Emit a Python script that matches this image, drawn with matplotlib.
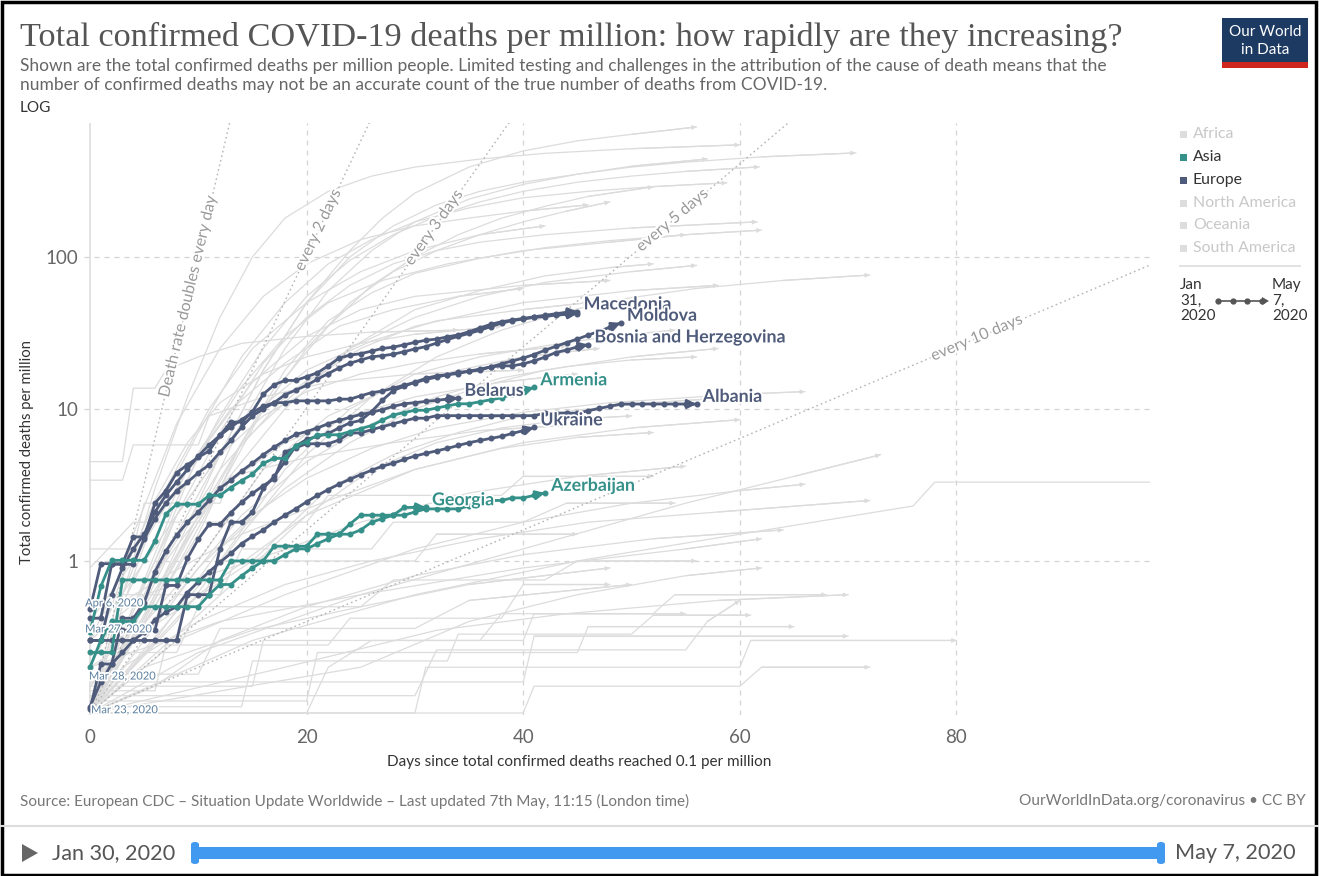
import numpy as np
import matplotlib.pyplot as plt
import matplotlib.patheffects as pe
from matplotlib.patches import Rectangle, FancyBboxPatch, Polygon
from matplotlib.lines import Line2D

W, H = 1319, 876

# ---- highlighted countries: deaths per million, one value per day since 0.1/M ----
macedonia = [0.48, 0.96, 0.96, 0.96, 1.44, 1.44, 2.4, 2.9, 3.8, 4.3, 4.8, 5.3, 6.7, 8.2, 8.2,
             9.6, 12.5, 14.4, 15.4, 15.4, 16.3, 17.3, 19.2, 21.6, 22.6, 23.1, 24.0, 25.0, 25.5,
             26.4, 27.4, 28.3, 28.8, 29.8, 30.7, 32.2, 34.1, 36.0, 37.5, 38.4, 39.4, 40.4, 41.3,
             42.3, 43.2, 43.7]
europe_other = [0.42, 0.42, 0.95, 0.95, 0.95, 1.4, 1.9, 2.4, 2.9, 3.3, 3.8, 4.3, 5.2, 6.2, 7.6,
                9.0, 10.0, 11.0, 12.4, 13.3, 14.3, 15.7, 17.1, 18.6, 20.0, 21.0, 22.0, 22.4, 22.9,
                23.8, 24.8, 25.7, 27.1, 28.6, 30.0, 31.4, 32.9, 34.8, 36.7, 38.1, 39.0, 40.0, 40.5,
                41.4, 41.9, 42.4]
moldova = [0.30, 0.30, 0.30, 0.30, 0.30, 0.30, 0.30, 0.30, 0.30, 0.60, 0.60, 0.60, 1.2, 1.8, 1.8,
           2.1, 3.0, 3.6, 4.5, 5.7, 6.3, 6.6, 6.9, 7.5, 8.1, 8.4, 9.6, 11.4, 13.2, 14.1, 15.0,
           15.9, 16.5, 16.8, 17.4, 17.7, 18.0, 18.9, 19.8, 20.7, 21.6, 22.8, 24.3, 25.8, 27.3,
           28.8, 30.6, 32.4, 34.5, 36.8]
bosnia = [0.3, 0.3, 0.6, 0.9, 1.2, 1.5, 2.1, 2.7, 3.3, 4.0, 4.9, 5.8, 6.7, 7.6, 8.5, 9.5, 10.4,
          11.0, 11.0, 11.3, 11.3, 11.3, 11.3, 11.6, 11.6, 12.2, 12.8, 13.1, 13.7, 14.3, 14.9,
          15.6, 16.2, 16.8, 17.1, 17.7, 18.3, 18.9, 19.2, 19.2, 19.8, 20.7, 21.9, 23.5, 24.4,
          25.6, 26.5]
belarus = [0.106, 0.21, 0.21, 0.42, 0.42, 0.53, 0.85, 1.16, 1.48, 1.8, 2.1, 2.5, 3.0, 3.4, 3.9,
           4.4, 5.0, 5.6, 6.2, 6.8, 7.1, 7.5, 8.0, 8.4, 8.8, 9.2, 9.5, 9.9, 10.4, 10.8, 11.0,
           11.2, 11.4, 11.6, 11.8]
albania = [0.35, 0.35, 0.35, 0.35, 0.35, 0.35, 0.35, 0.69, 0.69, 1.04, 1.39, 1.74, 1.74, 2.08,
           2.43, 2.78, 3.13, 3.47, 5.2, 5.56, 5.9, 5.9, 5.9, 6.25, 6.95, 6.95, 7.3, 7.64, 7.99,
           8.34, 8.69, 8.69, 9.03, 9.03, 9.03, 9.03, 9.03, 9.03, 9.03, 9.03, 9.03, 9.03, 9.38,
           9.38, 9.38, 9.38, 9.73, 10.07, 10.42, 10.77, 10.77, 10.77, 10.77, 10.77, 10.77,
           10.77, 10.77]
ukraine = [0.11, 0.16, 0.21, 0.25, 0.30, 0.34, 0.41, 0.46, 0.50, 0.62, 0.73, 0.85, 0.98, 1.12,
           1.30, 1.45, 1.60, 1.80, 2.0, 2.2, 2.45, 2.7, 2.95, 3.2, 3.45, 3.7, 3.95, 4.2, 4.4,
           4.65, 4.9, 5.1, 5.3, 5.5, 5.75, 6.0, 6.2, 6.4, 6.6, 6.9, 7.2, 7.55]
armenia = [0.34, 0.68, 1.01, 1.01, 1.01, 1.01, 1.35, 2.03, 2.36, 2.36, 2.36, 2.7, 2.7, 3.04,
           3.38, 3.72, 4.39, 4.73, 4.73, 5.74, 6.08, 6.76, 6.76, 6.76, 7.1, 7.43, 7.77, 8.45,
           9.12, 9.46, 9.8, 9.8, 10.14, 10.47, 10.81, 10.81, 11.15, 11.49, 11.82, 12.5, 13.18,
           13.85]
georgia = [0.25, 0.25, 0.25, 0.75, 0.75, 0.75, 0.75, 0.75, 0.75, 0.75, 0.75, 0.75, 0.75, 1.0,
           1.0, 1.0, 1.0, 1.25, 1.25, 1.25, 1.25, 1.5, 1.5, 1.5, 1.75, 2.0, 2.0, 2.0, 2.0, 2.25,
           2.25, 2.25]
azerbaijan = [0.2, 0.3, 0.4, 0.4, 0.4, 0.5, 0.5, 0.5, 0.5, 0.5, 0.5, 0.6, 0.7, 0.7, 0.8, 0.9,
              1.0, 1.0, 1.1, 1.2, 1.2, 1.3, 1.4, 1.5, 1.5, 1.6, 1.8, 1.9, 2.0, 2.0, 2.1, 2.2,
              2.2, 2.2, 2.2, 2.3, 2.4, 2.5, 2.5, 2.6, 2.6, 2.7, 2.8]

europe_series = [('Macedonia', macedonia), ('', europe_other), ('Moldova', moldova),
                 ('Bosnia and Herzegovina', bosnia), ('Belarus', belarus),
                 ('Albania', albania), ('Ukraine', ukraine)]
asia_series = [('Armenia', armenia), ('Georgia', georgia), ('Azerbaijan', azerbaijan)]

# start-date labels shown at the left edge
start_labels = ['Apr 6, 2020', 'Mar 27, 2020', 'Mar 28, 2020', 'Mar 23, 2020']
start_label_x = [-0.45, -0.45, -0.1, 0.1]
start_label_y = [0.53, 0.357, 0.175, 0.105]

# ---- all other countries (grey), as (day, deaths per million) ----
grey_upper = [
    [(0, 0.1), (4, 0.4), (8, 1.5), (12, 5), (16, 18), (20, 50), (24, 110), (27, 180), (30, 263), (35, 390), (40, 498), (45, 580), (50, 640), (56, 716)],
    [(0, 0.1), (3, 0.6), (6, 3), (9, 12), (12, 40), (15, 100), (18, 180), (22, 270), (26, 340), (30, 390), (36, 440), (42, 480), (50, 515), (60, 546)],
    [(0, 0.1), (5, 0.4), (10, 2), (14, 8), (18, 25), (22, 60), (26, 110), (30, 170), (35, 240), (40, 300), (45, 350), (50, 390), (55, 420), (62, 455), (70.7, 483)],
    [(0, 0.1), (4, 0.3), (8, 1.2), (12, 5), (16, 18), (20, 50), (24, 100), (28, 160), (32, 220), (36, 270), (40, 310), (45, 350), (50, 395), (57, 441)],
    [(0, 0.1), (4, 0.5), (8, 2.5), (12, 9), (16, 25), (20, 55), (24, 95), (28, 140), (32, 185), (36, 230), (40, 270), (45, 310), (50, 340), (55, 365), (61.8, 391)],
    [(0, 0.1), (6, 0.6), (10, 2), (14, 6), (18, 16), (22, 35), (26, 65), (30, 100), (34, 140), (38, 180), (42, 215), (46, 250), (52, 289)],
    [(0, 0.1), (3, 0.5), (6, 2), (10, 7), (14, 22), (18, 50), (22, 90), (26, 130), (30, 170), (35, 210), (40, 245), (46, 270), (52, 290), (58.8, 307)],
    [(0, 0.1), (4, 0.4), (8, 2), (12, 7), (16, 20), (20, 40), (24, 65), (28, 90), (32, 110), (36, 125), (42, 140), (50, 155), (61.6, 170)],
    [(0, 0.1), (8, 0.4), (14, 1.5), (20, 5), (26, 12), (32, 22), (38, 33), (44, 44), (50, 54), (56, 62), (64, 70), (72, 76)],
    [(0, 0.1), (6, 0.5), (12, 3), (16, 10), (20, 25), (24, 50), (28, 80), (32, 110), (36, 140), (40, 170), (44, 200), (48, 230)],
    [(0, 0.1), (4, 1.5), (8, 8), (12, 25), (16, 55), (20, 90), (25, 130), (30, 160), (35, 180), (40, 200), (46, 220)],
    [(0, 0.2), (5, 1.0), (9, 4), (14, 14), (18, 30), (22, 50), (27, 70), (33, 90), (40, 110), (48, 125), (55, 140)],
    [(0, 0.1), (10, 1.5), (14, 6), (18, 18), (22, 38), (26, 58), (30, 78), (36, 98), (42, 115), (48, 128), (55, 140), (62, 150)],
    [(0, 0.1), (5, 0.5), (12, 3), (18, 10), (24, 25), (30, 45), (36, 60), (42, 75), (48, 85), (52, 90)],
    [(0, 0.1), (6, 0.8), (12, 4), (18, 12), (24, 25), (30, 40), (36, 55), (42, 68), (50, 80), (56, 88)],
    [(0, 0.1), (3, 0.6), (7, 3), (11, 10), (15, 25), (20, 50), (25, 80), (30, 110), (36, 140), (42, 160)],
]
grey_middle = [
    [(0, 0.1), (6, 1), (10, 5), (15, 15), (20, 30), (25, 45), (30, 55), (40, 65), (48, 70)],
    [(0, 0.1), (8, 1), (14, 6), (20, 15), (25, 25), (30, 35), (40, 50), (50, 60), (58, 65)],
    [(0, 0.3), (8, 2), (14, 8), (20, 18), (26, 28), (32, 38), (40, 45), (46, 50)],
    [(0, 0.1), (12, 1), (18, 4), (24, 10), (30, 17), (36, 22), (42, 26), (48, 30), (54, 33)],
    [(0, 0.15), (10, 1), (16, 4), (22, 9), (28, 14), (34, 18), (40, 22), (47, 25)],
    [(0, 0.1), (7, 1), (12, 3), (18, 6), (24, 9), (30, 12), (38, 15), (45, 17)],
    [(0, 0.2), (15, 1), (22, 3), (28, 5), (34, 7), (40, 9), (46, 10), (52, 11), (60, 12)],
    [(0, 0.1), (10, 0.6), (20, 2), (30, 4), (40, 6), (50, 7.5), (60, 8.5)],
    [(0, 0.4), (4, 1), (9, 4), (13, 10), (18, 20), (23, 35), (28, 45), (34, 55), (40, 62)],
    [(0, 0.1), (14, 0.8), (20, 2), (26, 4), (32, 6), (38, 7.5), (44, 8.5), (50, 9)],
    [(0, 0.4), (7, 0.8), (14, 1.5), (22, 2.5), (30, 4), (38, 5.5), (45, 6.5), (52, 7)],
    [(0, 0.3), (5, 0.6), (15, 1.0), (25, 1.8), (35, 2.8), (45, 3.6), (55, 4.2)],
    [(0, 0.1), (4, 0.5), (8, 2), (12, 5), (16, 9), (20, 13), (25, 17), (30, 20), (36, 23), (44, 26)],
    [(0, 0.2), (3, 0.8), (6, 2.5), (9, 6), (12, 11), (16, 17), (20, 22), (25, 27), (30, 31), (38, 35)],
    [(0, 0.1), (6, 0.3), (12, 1.2), (18, 3), (24, 6), (30, 10), (36, 14), (42, 18), (50, 22), (58, 25)],
    [(0, 4.5), (3, 4.5), (4, 13.7), (6, 13.7), (7, 18), (10, 22), (14, 27), (20, 30), (26, 32), (34, 33)],
    [(0, 3.4), (3, 3.4), (4, 5.8), (10, 5.8), (11, 9), (16, 12), (22, 15), (30, 17), (40, 18)],
    [(0, 1.2), (4, 1.2), (5, 2.4), (12, 2.4), (13, 3.6), (20, 4.8), (28, 6), (36, 7.2), (44, 7.8)],
    [(0, 0.9), (4, 1.8), (20, 1.8), (22, 2.7), (38, 2.7), (40, 3.6), (52, 3.6)],
    [(0, 0.1), (5, 0.3), (10, 0.9), (15, 2), (20, 3.5), (26, 5.5), (32, 7.5), (40, 9.5), (48, 11), (60, 12.5), (66, 13)],
    [(0, 0.15), (8, 0.6), (14, 2), (20, 4.5), (26, 8), (32, 12), (38, 16), (44, 19), (50, 21), (56, 22)],
]
grey_lower = [
    [(0, 0.1), (15, 0.3), (30, 0.6), (45, 1.0), (60, 1.5), (76, 2.3), (78, 3.3), (98, 3.3)],
    [(0, 0.1), (10, 0.25), (25, 0.6), (40, 1.2), (55, 2.4), (65, 3.6), (73, 5.0)],
    [(0, 0.1), (30, 0.1), (31, 0.2), (60, 0.2), (61, 0.3), (80, 0.3)],
    [(0, 0.12), (20, 0.12), (21, 0.25), (45, 0.25), (46, 0.37), (65, 0.37)],
    [(0, 0.15), (15, 0.15), (16, 0.3), (40, 0.3), (41, 0.45), (55, 0.45)],
    [(0, 0.1), (40, 0.1), (41, 0.15), (60, 0.15), (62, 0.2), (72, 0.2)],
    [(0, 0.2), (12, 0.4), (25, 0.6), (40, 0.9), (55, 1.2), (62, 1.4)],
    [(0, 0.1), (8, 0.3), (18, 0.6), (30, 1.2), (40, 1.8), (50, 2.4), (60, 2.9), (66, 3.2)],
    [(0, 0.1), (25, 0.2), (35, 0.4), (45, 0.6), (55, 0.8), (62, 0.9)],
    [(0, 0.13), (30, 0.13), (32, 0.26), (55, 0.26), (57, 0.4), (60, 0.55)],
    [(0, 0.5), (10, 0.5), (12, 1.0), (30, 1.0), (32, 1.5), (45, 1.5)],
    [(0, 0.25), (8, 0.25), (10, 0.5), (25, 0.5), (28, 0.75), (42, 0.75), (45, 1.0), (56, 1.0)],
    [(0, 0.1), (5, 0.2), (15, 0.35), (25, 0.5), (35, 0.7), (48, 0.9)],
    [(0, 0.18), (10, 0.18), (12, 0.36), (30, 0.36), (35, 0.55), (50, 0.7)],
    [(0, 0.1), (18, 0.2), (32, 0.35), (44, 0.45), (58, 0.55), (70, 0.6)],
    [(0, 0.11), (14, 0.11), (15, 0.22), (33, 0.22), (34, 0.33), (50, 0.33), (52, 0.44), (61, 0.44)],
    [(0, 0.14), (6, 0.14), (7, 0.28), (22, 0.28), (24, 0.42), (38, 0.42), (40, 0.7), (48, 0.7)],
    [(0, 0.1), (3, 0.2), (10, 0.4), (18, 0.7), (26, 1.0), (36, 1.4), (46, 1.8), (58, 2.1), (72, 2.5)],
    [(0, 0.1), (6, 0.15), (12, 0.3), (20, 0.5), (30, 0.8), (40, 1.1), (52, 1.4), (64, 1.6)],
    [(0, 0.16), (40, 0.16), (41, 0.32), (70, 0.32)],
    [(0, 0.3), (2, 0.6), (12, 0.6), (14, 1.2), (26, 1.2), (28, 1.8), (40, 1.8), (44, 2.4), (54, 2.4)],
    [(0, 0.1), (20, 0.1), (22, 0.2), (26, 0.3), (36, 0.3), (38, 0.45), (52, 0.45), (54, 0.6), (68, 0.6)],
]

# doubling reference lines
doubling_days = [1, 2, 3, 5, 10]
doubling_labels = ['Death rate doubles every day', 'every 2 days', 'every 3 days',
                   'every 5 days', 'every 10 days']
doubling_label_day = [9.1, 21.1, 31.8, 53.8, 81.9]

legend_names = ['Africa', 'Asia', 'Europe', 'North America', 'Oceania', 'South America']

EUROPE = '#4f5b7a'
ASIA = '#35908a'
GREY = '#dcdcdc'
FONT = 'Lato'


def fx(x):
    return x / W


def fy(y):
    return 1 - y / H


fig = plt.figure(figsize=(W / 100, H / 100), dpi=100)
ax = fig.add_axes([fx(83.5), fy(715), fx(1150.3) - fx(83.5), fy(123) - fy(715)])
ax.set_yscale('log')
ax.set_xlim(-0.6, 97.9)
ax.set_ylim(0.097, 760)
for s in ax.spines.values():
    s.set_visible(False)
ax.set_xticks([0, 20, 40, 60, 80])
ax.set_yticks([1, 10, 100])
ax.set_yticklabels(['1', '10', '100'])
ax.yaxis.set_minor_locator(plt.NullLocator())
ax.tick_params(length=0, labelsize=13.5, labelcolor='#666666', pad=4)
ax.tick_params(axis='x', pad=10)
for lab in ax.get_xticklabels() + ax.get_yticklabels():
    lab.set_family(FONT)

for d in [20, 40, 60, 80]:
    ax.axvline(d, color='#d4d4d4', lw=0.9, ls=(0, (4, 4)), zorder=0)
for v in [1, 10, 100]:
    ax.axhline(v, color='#d4d4d4', lw=0.9, ls=(0, (4, 4)), zorder=0)
ax.axvline(0, color='#dddddd', lw=1.2, zorder=0)

# grey background countries
for path in grey_upper + grey_middle + grey_lower:
    d, v = zip(*path)
    ax.plot(d, v, color=GREY, lw=0.9, zorder=1)
    ax.annotate('', xy=(d[-1], v[-1]), xytext=(d[-2], v[-2]),
                arrowprops=dict(arrowstyle='-|>', color=GREY, lw=0.9, mutation_scale=6,
                                shrinkA=0, shrinkB=0), zorder=1)

# doubling lines
xs = np.linspace(0, 98, 500)
for d, lab, ld in zip(doubling_days, doubling_labels, doubling_label_day):
    ax.plot(xs, 0.1 * 2 ** (xs / d), color='#b5b5b5', lw=1.0, ls=(0, (1.2, 2.2)), zorder=2)
    p1 = ax.transData.transform((ld, 0.1 * 2 ** (ld / d)))
    p2 = ax.transData.transform((ld + 0.5, 0.1 * 2 ** ((ld + 0.5) / d)))
    ang = np.degrees(np.arctan2(p2[1] - p1[1], p2[0] - p1[0]))
    ax.text(ld, 0.1 * 2 ** (ld / d), lab, rotation=ang, rotation_mode='anchor',
            ha='center', va='center', fontsize=11.5, color='#9a9a9a', family=FONT, zorder=3,
            path_effects=[pe.withStroke(linewidth=3, foreground='white')])

# highlighted countries
for series, col in [(europe_series, EUROPE), (asia_series, ASIA)]:
    for name, vals in series:
        days = np.arange(len(vals))
        ax.plot(days, vals, color=col, lw=2, marker='o', ms=3.3, zorder=5)
        ax.annotate('', xy=(days[-1], vals[-1]), xytext=(days[-2], vals[-2]),
                    arrowprops=dict(arrowstyle='-|>', color=col, lw=2, mutation_scale=13,
                                    shrinkA=0, shrinkB=0), zorder=6)
        if name:
            ax.annotate(name, xy=(days[-1], vals[-1]), xytext=(4.5, 5.5),
                        textcoords='offset points', ha='left', va='center', fontsize=12.8,
                        fontweight='bold', color=col, family=FONT, zorder=7,
                        path_effects=[pe.withStroke(linewidth=2.5, foreground='white')])

for lab, x, y in zip(start_labels, start_label_x, start_label_y):
    ax.text(x, y, lab, fontsize=8, color='#5c7f9e', family=FONT, ha='left', va='center',
            zorder=8, path_effects=[pe.withStroke(linewidth=2.5, foreground='white')])

# axis titles
fig.text(fx(579), fy(762), 'Days since total confirmed deaths reached 0.1 per million',
         ha='center', va='center', fontsize=11, color='#333333', family=FONT)
fig.text(fx(27), fy(452), 'Total confirmed deaths per million', rotation=90,
         ha='center', va='center', fontsize=10.7, color='#333333', family=FONT)

# header
fig.text(fx(20), fy(37), 'Total confirmed COVID-19 deaths per million: how rapidly are they increasing?',
         ha='left', va='center', fontsize=24.7, color='#555555', family='Liberation Serif')
fig.text(fx(20), fy(66), 'Shown are the total confirmed deaths per million people. Limited testing and '
         'challenges in the attribution of the cause of death means that the',
         ha='left', va='center', fontsize=12.5, color='#666666', family=FONT)
fig.text(fx(20), fy(85), 'number of confirmed deaths may not be an accurate count of the true number '
         'of deaths from COVID-19.', ha='left', va='center', fontsize=12.5, color='#666666',
         family=FONT)
fig.text(fx(20), fy(108), 'LOG', ha='left', va='center', fontsize=11, color='#333333',
         family=FONT)

# logo
fig.patches.append(Rectangle((fx(1222), fy(62)), fx(86), 44 / H, transform=fig.transFigure,
                             facecolor='#1d3b62', edgecolor='none'))
fig.patches.append(Rectangle((fx(1222), fy(68)), fx(86), 6 / H, transform=fig.transFigure,
                             facecolor='#ce261e', edgecolor='none'))
fig.text(fx(1265), fy(32), 'Our World', ha='center', va='center', fontsize=11, color='white',
         family=FONT)
fig.text(fx(1265), fy(50), 'in Data', ha='center', va='center', fontsize=11, color='white',
         family=FONT)

# continent legend
leg_y = [134, 157, 180, 203, 225, 248]
for name, y in zip(legend_names, leg_y):
    if name == 'Asia':
        sq, tc = ASIA, '#333333'
    elif name == 'Europe':
        sq, tc = EUROPE, '#333333'
    else:
        sq, tc = '#dddddd', '#c8c8c8'
    fig.patches.append(Rectangle((fx(1180), fy(y + 3.5)), fx(7), 7 / H,
                                 transform=fig.transFigure, facecolor=sq, edgecolor='none'))
    fig.text(fx(1193), fy(y), name, ha='left', va='center', fontsize=11.4, color=tc, family=FONT)
fig.add_artist(Line2D([fx(1180), fx(1300)], [fy(266), fy(266)], color='#dddddd', lw=1.2))
fig.text(fx(1180), fy(278), 'Jan\n31,\n2020', ha='left', va='top', fontsize=11, color='#333333',
         family=FONT, linespacing=1.15)
fig.text(fx(1272), fy(278), 'May\n7,\n2020', ha='left', va='top', fontsize=11, color='#333333',
         family=FONT, linespacing=1.15)
fig.add_artist(Line2D([fx(1218), fx(1232.7), fx(1247.3), fx(1262)],
                      [fy(301)] * 4, color='#555555', lw=1.2, marker='o', ms=3.5))
fig.patches.append(Polygon([(fx(1262), fy(297)), (fx(1269), fy(301)), (fx(1262), fy(305))],
                           closed=True, transform=fig.transFigure, facecolor='#555555',
                           edgecolor='none'))

# footer
fig.text(fx(20), fy(801), 'Source: European CDC – Situation Update Worldwide – Last updated 7th May, '
         '11:15 (London time)', ha='left', va='center', fontsize=11, color='#777777', family=FONT)
fig.text(fx(1306), fy(801), 'OurWorldInData.org/coronavirus • CC BY', ha='right', va='center',
         fontsize=11.1, color='#777777', family=FONT)
fig.add_artist(Line2D([0, 1], [fy(826), fy(826)], color='#dddddd', lw=1.5))

# timeline
fig.patches.append(Polygon([(fx(22), fy(844)), (fx(38), fy(853)), (fx(22), fy(862))],
                           closed=True, transform=fig.transFigure, facecolor='#666666',
                           edgecolor='none'))
fig.text(fx(52), fy(853), 'Jan 30, 2020', ha='left', va='center', fontsize=15.6, color='#555555',
         family=FONT)
fig.text(fx(1296), fy(853), 'May 7, 2020', ha='right', va='center', fontsize=15.6,
         color='#555555', family=FONT)
fig.patches.append(Rectangle((fx(195), fy(859)), fx(1163) - fx(195), 12 / H,
                             transform=fig.transFigure, facecolor='#4299f0', edgecolor='none'))
for xh in [191, 1157]:
    fig.patches.append(FancyBboxPatch((fx(xh), fy(864)), fx(8), 22 / H,
                                      boxstyle='round,pad=0,rounding_size=0.003',
                                      transform=fig.transFigure, facecolor='#4299f0',
                                      edgecolor='none'))

# outer frame
fig.patches.append(Rectangle((fx(1.5), fy(874.5)), fx(1314), 873 / H, transform=fig.transFigure,
                             facecolor='none', edgecolor='black', lw=2.5))

fig.savefig('out.png', dpi=100)
